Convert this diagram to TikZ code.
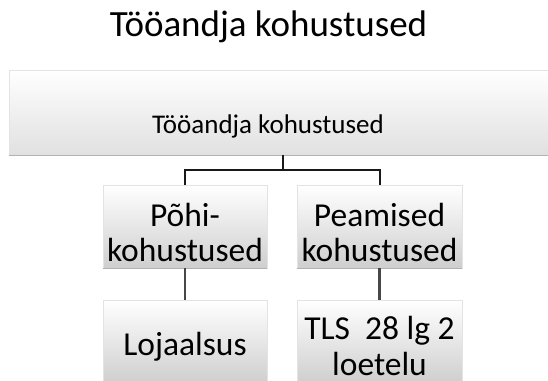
\documentclass[tikz,border=0pt]{standalone}
\usepackage{fontspec}
\setmainfont{Carlito}
\tikzset{
  boxbase/.style={rectangle, draw=gray!22, line width=0.6pt, top color=white, bottom color=gray!38, inner sep=0pt},
  topbox/.style={boxbase, minimum width=547pt, minimum height=85pt, bottom color=gray!24},
  childbox/.style={boxbase, minimum width=164pt, minimum height=83pt},
  boxtext/.style={align=center, inner sep=0pt, font=\fontsize{33.5}{35.5}\selectfont},
  link/.style={draw=black!90, line width=2pt},
  sublink/.style={draw=black!72, line width=2.2pt},
  shadowline/.style={draw=gray!60, line width=1pt}
}
\begin{document}
\begin{tikzpicture}[x=1pt,y=-1pt]
\useasboundingbox (0,0) rectangle (548,380);
\clip (0,0) rectangle (548,380);
\fill[white] (0,0) rectangle (548,380);
\node[font=\fontsize{37}{40}\selectfont, anchor=base] (title) at (268.5,36) {Tööandja kohustused};
% top box
\node[topbox] (top) at (282.5,112.5) {};
\draw[shadowline] (top.south west) -- (top.south east);
\node[font=\fontsize{27}{30}\selectfont, anchor=base] (toptext) at (268,133) {Tööandja kohustused};
% level 2
\node[childbox] (l2a) at (185,226.5) {};
\node[childbox, minimum width=165pt] (l2b) at (379.5,226.5) {};
\draw[shadowline, line width=0.8pt] (l2a.south west) -- (l2a.south east);
\draw[shadowline, line width=0.8pt] (l2b.south west) -- (l2b.south east);
\node[boxtext, yshift=-6pt] (t2a) at (l2a) {Põhi-\\kohustused};
\node[boxtext, yshift=-6pt] (t2b) at (l2b) {Peamised\\kohustused};
% level 3
\node[childbox] (l3a) at (185,341.5) {};
\node[childbox, minimum width=165pt] (l3b) at (379.5,341.5) {};
\node[boxtext, yshift=-5pt] (t3a) at (l3a) {Lojaalsus};
\node[boxtext, yshift=-4.5pt] (t3b) at (l3b) {TLS\ \ 28 lg 2\\loetelu};
% connectors
\coordinate (mid) at (282.5,169.5);
\draw[link] (top.south -| mid) -- (mid);
\draw[link] (l2a.north) |- (mid) -| (l2b.north);
\draw[sublink] (l2a.south) -- (l3a.north);
\draw[sublink] (l2b.south) -- (l3b.north);
\end{tikzpicture}
\end{document}
